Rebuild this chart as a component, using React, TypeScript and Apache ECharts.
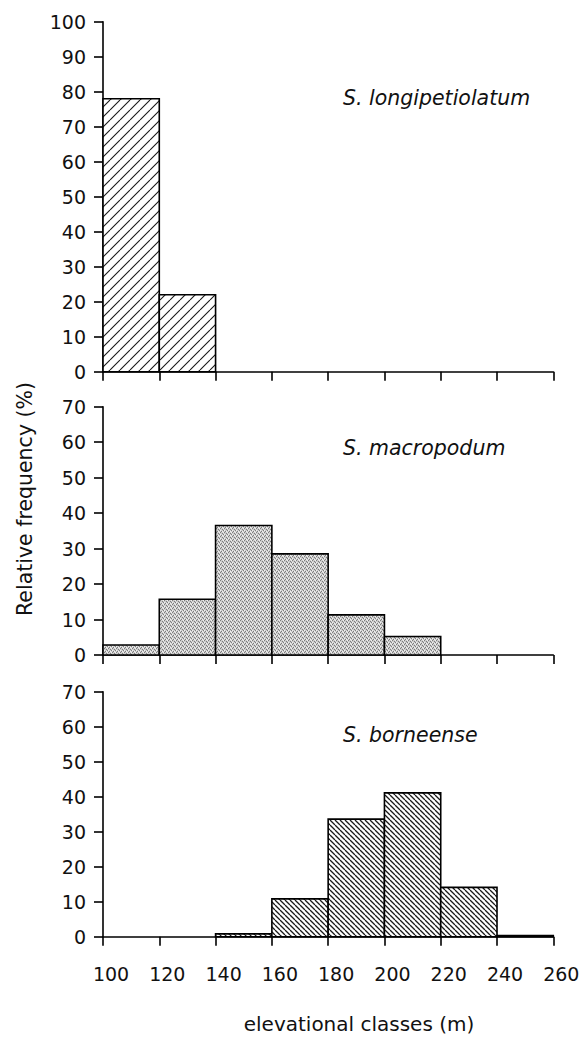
import React, { useEffect, useRef } from "react";
import * as echarts from "echarts";

// Elevational class edges (m)
const EDGES = [100, 120, 140, 160, 180, 200, 220, 240, 260];
const X_TICKS = [100, 120, 140, 160, 180, 200, 220, 240, 260];
// Relative frequency (%) per class
const LONGIPETIOLATUM = [78, 22, 0, 0, 0, 0, 0, 0];
const MACROPODUM = [2.8, 15.7, 36.5, 28.5, 11.3, 5.2, 0, 0];
const BORNEENSE = [0, 0, 0.8, 10.8, 33.6, 41.1, 14.1, 0.3];
const TITLES = ["S. longipetiolatum", "S. macropodum", "S. borneense"];
const Y_MAX = [100, 70, 70];

const FONT = "'DejaVu Sans', sans-serif";

function toItems(vals: number[]) {
  return vals.map((v, i) => [EDGES[i], EDGES[i + 1], v]);
}

function hatch(size: number, lw: number, dir: 1 | -1, color: string) {
  const c = document.createElement("canvas");
  c.width = size;
  c.height = size;
  const ctx = c.getContext("2d")!;
  ctx.fillStyle = "#fff";
  ctx.fillRect(0, 0, size, size);
  ctx.strokeStyle = color;
  ctx.lineWidth = lw;
  ctx.beginPath();
  for (let k = -1; k <= 1; k++) {
    if (dir === 1) {
      ctx.moveTo(k * size, size);
      ctx.lineTo(k * size + size, 0);
    } else {
      ctx.moveTo(k * size, 0);
      ctx.lineTo(k * size + size, size);
    }
  }
  ctx.stroke();
  return { image: c.toDataURL(), repeat: "repeat", imageWidth: size, imageHeight: size };
}

function stipple() {
  const c = document.createElement("canvas");
  c.width = 4;
  c.height = 4;
  const ctx = c.getContext("2d")!;
  ctx.fillStyle = "#cdcdcd";
  ctx.fillRect(0, 0, 4, 4);
  ctx.fillStyle = "#7d7d7d";
  [[0, 0], [2, 1], [1, 3], [3, 2]].forEach(([x, y]) => ctx.fillRect(x, y, 1, 1));
  ctx.fillStyle = "#f2f2f2";
  [[2, 3], [0, 2], [3, 0]].forEach(([x, y]) => ctx.fillRect(x, y, 1, 1));
  return { image: c.toDataURL(), repeat: "repeat", imageWidth: 4, imageHeight: 4 };
}

export default function App() {
  const ref = useRef<HTMLDivElement>(null);

  useEffect(() => {
    if (!ref.current) return;
    const chart = echarts.init(ref.current, null, { renderer: "svg" });

    const patterns = [hatch(10, 1.1, 1, "#1a1a1a"), stipple(), hatch(5, 1.3, -1, "#1a1a1a")];
    const datasets = [LONGIPETIOLATUM, MACROPODUM, BORNEENSE];

    const grids = [
      { left: 103, right: 29.7, top: 21.7, height: 350 },
      { left: 103, right: 29.7, top: 406.7, height: 248.3 },
      { left: 103, right: 29.7, top: 691.7, height: 245 },
    ];

    const axisLine = { show: true, lineStyle: { color: "#000", width: 1.6 } };
    const axisTick = { show: true, length: 9, lineStyle: { color: "#000", width: 1.6 } };

    const xAxis = grids.map((_, i) => ({
      type: "value",
      gridIndex: i,
      min: X_TICKS[0],
      max: X_TICKS[X_TICKS.length - 1],
      interval: 20,
      axisLine,
      axisTick,
      splitLine: { show: false },
      axisLabel: {
        show: i === 2,
        fontFamily: FONT,
        fontSize: 19,
        color: "#111",
        margin: 28,
        padding: [0, 0, 0, 16],
      },
    }));

    const yAxis = grids.map((_, i) => ({
      type: "value",
      gridIndex: i,
      min: 0,
      max: Y_MAX[i],
      interval: 10,
      axisLine,
      axisTick,
      splitLine: { show: false },
      axisLabel: { fontFamily: FONT, fontSize: 19, color: "#111", margin: 17 },
    }));

    const series = datasets.map((vals, i) => ({
      type: "custom",
      xAxisIndex: i,
      yAxisIndex: i,
      data: toItems(vals),
      encode: { x: [0, 1], y: 2 },
      renderItem: (params: any, api: any) => {
        const x0 = api.value(0);
        const x1 = api.value(1);
        const v = api.value(2);
        if (!v) return { type: "group", children: [] };
        const p0 = api.coord([x0, 0]);
        const p1 = api.coord([x1, v]);
        return {
          type: "rect",
          shape: { x: p0[0], y: p1[1], width: p1[0] - p0[0], height: p0[1] - p1[1] },
          style: { fill: patterns[i], stroke: "#000", lineWidth: 1.6 },
        };
      },
    }));

    const titleTops = [88, 438, 725];
    const title = TITLES.map((t, i) => ({
      text: t,
      left: 343,
      top: titleTops[i],
      padding: 0,
      textStyle: { fontFamily: FONT, fontStyle: "italic", fontWeight: "normal", fontSize: 20.5, color: "#111" },
    }));

    chart.setOption({
      animation: false,
      backgroundColor: "#fff",
      title,
      grid: grids,
      xAxis,
      yAxis,
      series,
      graphic: [
        {
          type: "text",
          x: 25,
          y: 499,
          rotation: Math.PI / 2,
          style: {
            text: "Relative frequency (%)",
            fontFamily: FONT,
            fontSize: 20.5,
            fill: "#111",
            align: "center",
            verticalAlign: "middle",
          },
        },
        {
          type: "text",
          x: 359,
          y: 1024,
          style: {
            text: "elevational classes (m)",
            fontFamily: FONT,
            fontSize: 20,
            fill: "#111",
            align: "center",
            verticalAlign: "middle",
          },
        },
      ],
    });

    return () => chart.dispose();
  }, []);

  return (
    <div
      ref={ref}
      style={{ position: "fixed", left: 0, top: 0, width: 583, height: 1037, background: "#fff" }}
    />
  );
}
